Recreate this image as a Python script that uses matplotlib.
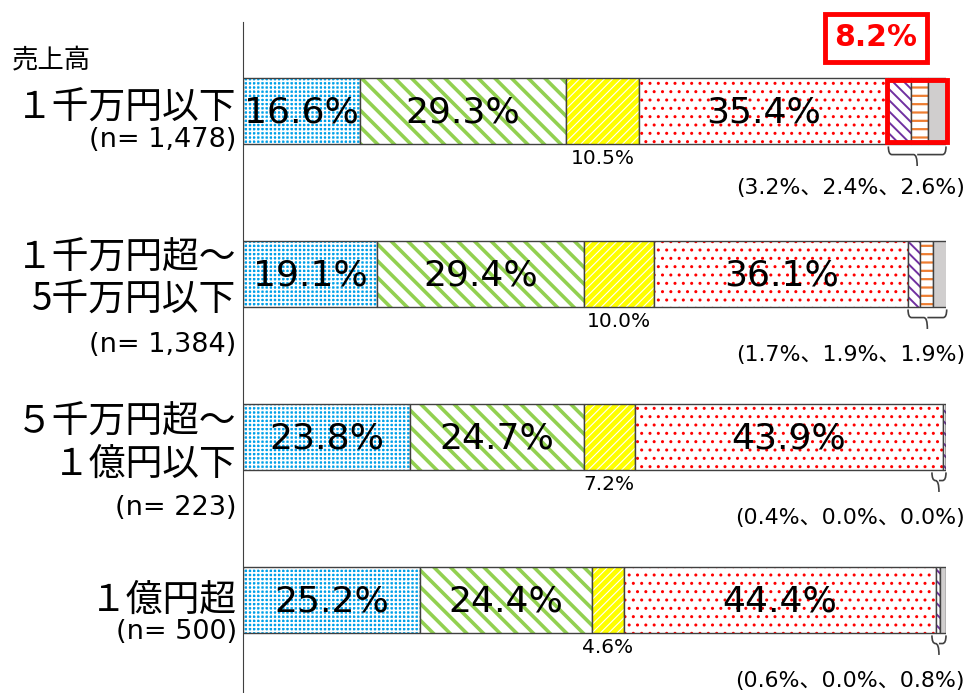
import numpy as np
import matplotlib
matplotlib.use("Agg")
import matplotlib.pyplot as plt
from matplotlib.patches import Rectangle
from matplotlib.path import Path
from matplotlib.patches import PathPatch
import matplotlib.transforms as mtransforms

plt.rcParams['font.family'] = ['DejaVu Sans', 'Noto Sans CJK JP']

# data
categories = [["１千万円以下", "(n= 1,478)"],
              ["１千万円超～", "5千万円以下", "(n= 1,384)"],
              ["５千万円超～", "１億円以下", "(n= 223)"],
              ["１億円超", "(n= 500)"]]
s1 = [16.6, 19.1, 23.8, 25.2]
s2 = [29.3, 29.4, 24.7, 24.4]
s3 = [10.5, 10.0, 7.2, 4.6]
s4 = [35.4, 36.1, 43.9, 44.4]
s5 = [3.2, 1.7, 0.4, 0.6]
s6 = [2.4, 1.9, 0.0, 0.0]
s7 = [2.6, 1.9, 0.0, 0.8]
highlight_total = "8.2%"

series = [s1, s2, s3, s4, s5, s6, s7]
# (face, hatch colour, hatch, hatch lw)
styles = [('#00a0e9', 'white', '++++', 1.25),
          ('white', '#92d050', '\\\\', 2.6),
          ('#ffff00', 'white', '////', 0.8),
          ('white', '#ff0000', '..', 1.0),
          ('white', '#7030a0', '\\\\\\', 1.4),
          ('white', '#ed7d31', '--', 1.6),
          ('#d0cece', '#d0cece', '', 1.0)]

fig = plt.figure(figsize=(9.69, 6.93), dpi=100)
ax = fig.add_axes([243 / 969, 0, 703 / 969, 671 / 693])
y = np.arange(len(categories))
h = 0.405
left = np.zeros(len(categories))

for vals, (fc, hc, hatch, hlw) in zip(series, styles):
    vals = np.array(vals)
    bars = ax.barh(y, vals, left=left, height=h, color=fc, edgecolor=hc,
                   hatch=hatch, linewidth=0)
    for b in bars:
        if hasattr(b, 'set_hatch_linewidth'):
            b.set_hatch_linewidth(hlw)
    ax.barh(y, vals, left=left, height=h, fill=False, edgecolor='#404040',
            linewidth=1.0)
    left = left + vals

# labels inside / below
for i in range(len(categories)):
    starts = np.cumsum([0] + [s[i] for s in series])
    for k in (0, 1, 3):
        v = series[k][i]
        ax.text(starts[k] + v / 2, y[i] + 0.01, f"{v:.1f}%", ha='center',
                va='center', fontsize=26)
    v = s3[i]
    ax.text(starts[2] + v / 2, y[i] + h / 2 + 0.09, f"{v:.1f}%", ha='center',
            va='center', fontsize=14.5)
    ax.text(102.7, y[i] + 0.47 if i == 0 else y[i] + 0.5,
            f"({s5[i]:.1f}%、{s6[i]:.1f}%、{s7[i]:.1f}%)", ha='right',
            va='center', fontsize=15.8, clip_on=False)

    # brace under the small segments
    x0 = starts[4]
    x1 = starts[7]
    if x1 - x0 < 2.0:
        x0 = x1 - 2.0
    xm = (x0 + x1) / 2
    yb = y[i] + h / 2 + 0.015
    yh = yb + 0.05
    verts = [(x0, yb), (x0, yh), (x0 + 0.5, yh),
             (xm - 0.5, yh), (xm, yh), (xm, yh + 0.07),
             (xm, yh), (xm + 0.5, yh),
             (x1 - 0.5, yh), (x1, yh), (x1, yb)]
    codes = [Path.MOVETO, Path.CURVE3, Path.CURVE3,
             Path.LINETO, Path.CURVE3, Path.CURVE3,
             Path.MOVETO, Path.LINETO,
             Path.LINETO, Path.CURVE3, Path.CURVE3]
    ax.add_patch(PathPatch(Path(verts, codes), fill=False, edgecolor='#404040',
                           linewidth=1.2, clip_on=False))

# category labels
trans = mtransforms.blended_transform_factory(ax.transAxes, ax.transData)
offsets = [[-0.02, 0.18], [-0.098, 0.16, 0.436], [-0.092, 0.17, 0.436], [0.0, 0.196]]
for i, lines in enumerate(categories):
    for line, off in zip(lines, offsets[i]):
        big = not line.startswith("(")
        ax.text(-0.009, y[i] + off, line, transform=trans, ha='right',
                va='center', fontsize=26.5 if big else 19.5,
                family=['Noto Sans CJK JP', 'DejaVu Sans'] if big else ['DejaVu Sans'],
                clip_on=False)

fig.text(12 / 969, 1 - 60 / 693, "売上高", ha='left', va='center', fontsize=19,
         family=['Noto Sans CJK JP'])

# highlight of first bar
hx0 = s1[0] + s2[0] + s3[0] + s4[0]
ax.add_patch(Rectangle((hx0 - 0.2, y[0] - h / 2 + 0.01), 100 - hx0 + 0.4, h - 0.02,
                       fill=False, edgecolor='#ff0000', linewidth=3.5,
                       clip_on=False, zorder=5))
ax.text(90.0, -0.448, highlight_total, ha='center', va='center', fontsize=21.5,
        fontweight='bold', color='#ff0000',
        bbox=dict(boxstyle='square,pad=0.32', facecolor='white',
                  edgecolor='#ff0000', linewidth=3.5))

ax.set_xlim(0, 100)
ax.set_ylim(3.571, -0.546)
for side in ('top', 'right', 'bottom'):
    ax.spines[side].set_visible(False)
ax.spines['left'].set_color('#404040')
ax.set_xticks([])
ax.set_yticks([])
ax.patch.set_alpha(0)

fig.savefig("out.png", dpi=100)
